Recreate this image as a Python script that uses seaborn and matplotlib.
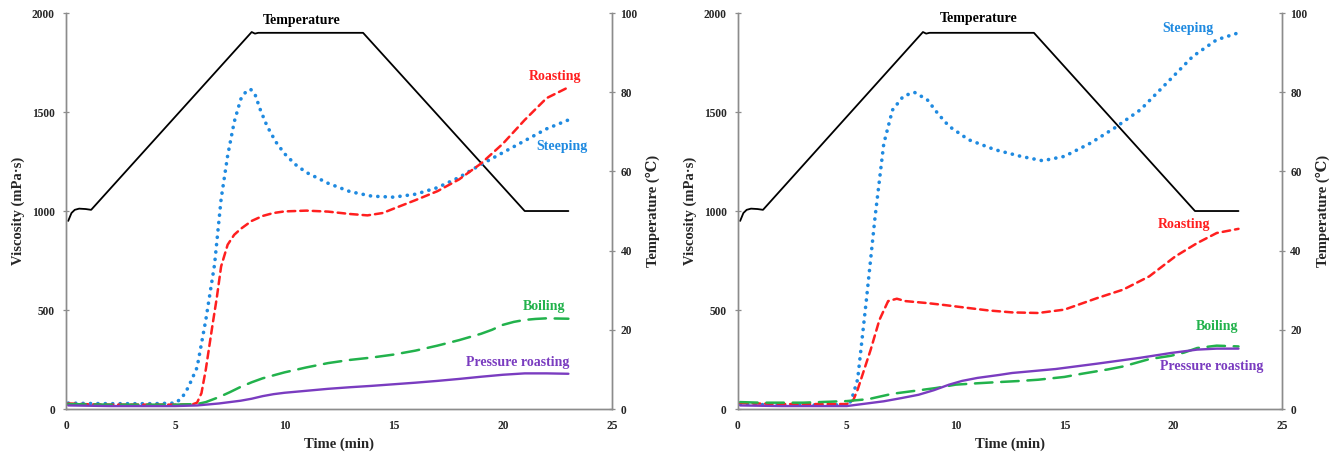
import matplotlib
matplotlib.use("Agg")
import matplotlib.pyplot as plt
import seaborn as sns
import pandas as pd

# temperature program (same for both panels)
temp_t = [0.1, 0.25, 0.4, 0.6, 0.9, 1.15, 8.5, 8.65, 8.8, 13.6, 21.0, 23.0]
temp_c = [47.5, 49.5, 50.3, 50.6, 50.5, 50.3, 95.2, 94.8, 95.0, 95.0, 50.0, 50.0]

# left panel
ls_t = [0.1, 1, 2, 3, 4, 5, 5.3, 5.6, 6.0, 6.4, 6.8, 7.1, 7.4, 7.7, 8.0, 8.25, 8.45, 8.65, 8.9, 9.2,
        9.6, 10, 10.5, 11, 12, 13, 14, 15, 16, 17, 18, 19, 20, 21, 22, 23]
ls_v = [30, 28, 27, 27, 27, 30, 55, 110, 210, 450, 730, 1060, 1280, 1450, 1565, 1605, 1615, 1590, 1510, 1430,
        1350, 1290, 1235, 1195, 1140, 1098, 1075, 1070, 1085, 1118, 1170, 1235, 1295, 1355, 1415, 1460]
lr_t = [0.1, 1, 2, 3, 4, 5, 5.8, 6.0, 6.2, 6.4, 6.7, 6.9, 7.1, 7.4, 7.7, 8.0, 8.5, 9.0, 9.5, 10, 11, 12,
        13, 13.8, 14.5, 15, 16, 17, 18, 19, 20, 21, 22, 23]
lr_v = [28, 24, 22, 22, 22, 22, 24, 32, 80, 200, 420, 560, 720, 830, 880, 910, 950, 975, 990, 998, 1002, 997,
        985, 978, 990, 1012, 1055, 1100, 1160, 1240, 1340, 1460, 1570, 1625]
lb_t = [0.1, 2, 4, 5, 6, 6.4, 7, 7.5, 8, 8.5, 9, 9.5, 10, 11, 12, 13, 14, 15, 16, 17, 18, 19, 19.5, 20,
        20.5, 21, 21.5, 22, 23]
lb_v = [25, 22, 22, 22, 25, 35, 60, 85, 112, 135, 155, 170, 185, 210, 232, 248, 260, 275, 295, 320, 348, 380,
        400, 425, 440, 450, 455, 458, 456]
lp_t = [0.1, 2, 4, 5, 6, 7, 8, 8.5, 9, 9.5, 10, 11, 12, 13, 14, 15, 16, 17, 18, 19, 20, 21, 22, 23]
lp_v = [18, 15, 15, 15, 18, 28, 42, 52, 65, 75, 82, 92, 102, 110, 117, 125, 133, 142, 152, 163, 173, 180,
        180, 178]

# right panel
rs_t = [0.1, 2, 4, 5, 5.2, 5.5, 5.9, 6.3, 6.7, 7.1, 7.6, 8.1, 8.7, 9.2, 9.7, 10.6, 11.8, 13, 14, 15, 16.2,
        17.3, 18.5, 19.7, 20.9, 22, 23]
rs_v = [25, 20, 20, 22, 40, 150, 550, 970, 1340, 1510, 1580, 1600, 1562, 1490, 1428, 1360, 1310, 1276, 1254,
        1276, 1343, 1419, 1512, 1646, 1781, 1865, 1900]
rr_t = [0.1, 2, 4, 5, 5.3, 5.5, 6.1, 6.5, 6.9, 7.3, 7.7, 8.7, 9.5, 10.6, 11.5, 12.6, 13.8, 15, 16.5, 17.7,
        18.9, 20.1, 21.1, 22, 23]
rr_v = [30, 25, 25, 25, 45, 98, 300, 450, 545, 557, 545, 535, 525, 510, 498, 488, 485, 502, 560, 603, 670,
        771, 838, 889, 910]
rb_t = [0.1, 1, 3, 5, 6, 7.1, 8, 9.1, 10, 11, 11.8, 13, 13.8, 15, 15.8, 17, 17.7, 18.9, 19.9, 20.5, 21.1,
        22, 23]
rb_v = [35, 32, 32, 40, 50, 77, 90, 106, 123, 130, 135, 142, 148, 162, 178, 200, 215, 252, 269, 285, 308,
        320, 316]
rp_t = [0.1, 2, 4, 5, 5.5, 6.7, 7.5, 8.3, 9, 9.7, 10.3, 11, 12, 12.6, 14.6, 16.5, 18.5, 19.9, 21.1, 22, 23]
rp_v = [18, 15, 15, 15, 22, 39, 55, 72, 95, 123, 142, 157, 172, 182, 202, 229, 259, 283, 300, 305, 305]

names = ["Steeping", "Roasting", "Boiling", "Pressure roasting"]
colors = {"Steeping": "#1f8ae0", "Roasting": "#ff1f1f", "Boiling": "#22b24c", "Pressure roasting": "#7a3cc0"}
styles = {"Steeping": (0, (0.05, 2.0)), "Roasting": (0, (3.0, 2.0)),
          "Boiling": (0, (7.0, 3.5)), "Pressure roasting": "-"}
widths = {"Steeping": 2.6, "Roasting": 1.8, "Boiling": 1.8, "Pressure roasting": 1.7}

panels = [
    {"Steeping": (ls_t, ls_v), "Roasting": (lr_t, lr_v), "Boiling": (lb_t, lb_v), "Pressure roasting": (lp_t, lp_v)},
    {"Steeping": (rs_t, rs_v), "Roasting": (rr_t, rr_v), "Boiling": (rb_t, rb_v), "Pressure roasting": (rp_t, rp_v)},
]
# label positions (time, viscosity)
label_pos = [
    {"Temperature": (10.8, 1960), "Roasting": (22.4, 1680), "Steeping": (22.7, 1325),
     "Boiling": (21.9, 520), "Pressure roasting": (20.7, 236)},
    {"Temperature": (11.05, 1972), "Steeping": (20.7, 1920), "Roasting": (20.5, 932),
     "Boiling": (22.0, 418), "Pressure roasting": (21.75, 215)},
]

sns.set_style("white")
plt.rcParams["font.family"] = ["Liberation Serif", "DejaVu Serif"]
plt.rcParams["font.weight"] = "bold"

fig = plt.figure(figsize=(13.42, 4.57), dpi=100)
boxes = [[0.0492, 0.105, 0.4069, 0.8665], [0.5499, 0.105, 0.4054, 0.8665]]

for i in range(2):
    ax = fig.add_axes(boxes[i])
    ax2 = ax.twinx()
    df_t = pd.DataFrame({"t": temp_t, "T": temp_c})
    sns.lineplot(data=df_t, x="t", y="T", color="black", lw=1.3, ax=ax2)
    for name in names:
        tt, vv = panels[i][name]
        df = pd.DataFrame({"t": tt, "v": vv})
        sns.lineplot(data=df, x="t", y="v", color=colors[name], lw=widths[name],
                     linestyle=styles[name], ax=ax)
        ax.lines[-1].set_dash_capstyle("round")
    ax.set_zorder(ax2.get_zorder() + 1)
    ax.patch.set_visible(False)

    ax.set_xlim(0, 25)
    ax.set_ylim(0, 2000)
    ax2.set_ylim(0, 100)
    ax.set_xticks([0, 5, 10, 15, 20, 25])
    ax.set_yticks([0, 500, 1000, 1500, 2000])
    ax2.set_yticks([0, 20, 40, 60, 80, 100])
    for a in (ax, ax2):
        for s in a.spines.values():
            s.set_color("#8c8c8c")
            s.set_linewidth(1.0)
        a.spines["top"].set_visible(False)
        a.tick_params(labelsize=8.3, length=4, width=0.9, color="#8c8c8c", direction="inout", pad=6)
    ax2.tick_params(axis="y", pad=4)
    ax.set_xlabel("Time (min)", fontsize=10.5, fontweight="bold", labelpad=4)
    ax.set_ylabel("Viscosity (mPa·s)", fontsize=10.5, fontweight="bold", labelpad=5)
    ax2.set_ylabel("Temperature (℃)", fontsize=10.5, fontweight="bold", labelpad=6)

    for key, (x, y) in label_pos[i].items():
        c = "black" if key == "Temperature" else colors[key]
        ax.text(x, y, key, color=c, fontsize=10, fontweight="bold", ha="center", va="center")

fig.savefig("out.png", dpi=100)
